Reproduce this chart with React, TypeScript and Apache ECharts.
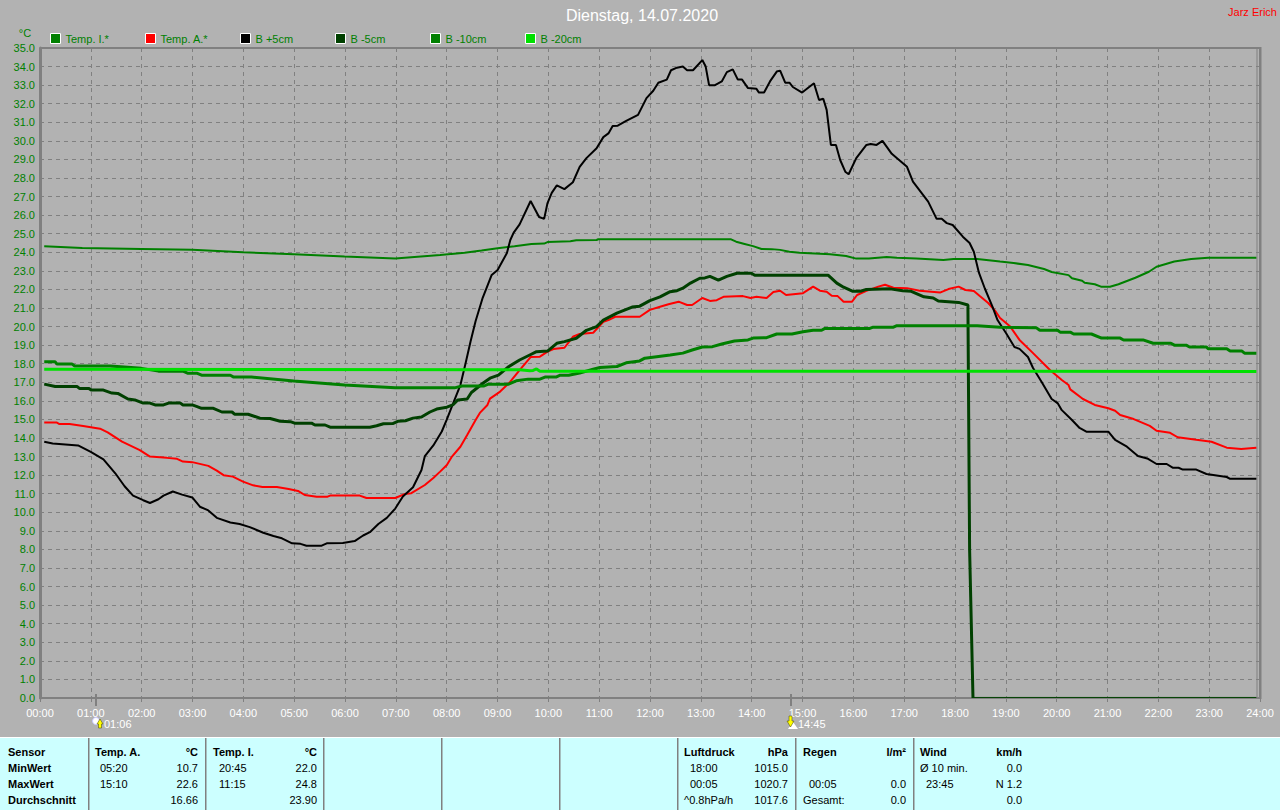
import React, { useEffect, useRef } from "react";
import * as echarts from "echarts";

type P = [number, number];

const FONT = "'Liberation Sans', Arial, sans-serif";
const titleText = "Dienstag, 14.07.2020";
const authorText = "Jarz Erich";
const seriesNames = ["Temp. I.*", "Temp. A.*", "B +5cm", "B -5cm", "B -10cm", "B -20cm"];
const seriesColors = ["#008000", "#ff0000", "#000000", "#004000", "#008000", "#00e000"];
const seriesWidths = [2, 2, 2, 3, 3, 3];
const timeScale = 0.9984;

const tempI: P[] = [[5,24.32],[50,24.23],[120,24.18],[180,24.13],[240,24.0],[300,23.9],[360,23.77],[420,23.66],[473,23.85],[502,23.98],[522,24.1],[541,24.22],[561,24.33],[581,24.45],[596,24.47],[600,24.55],[627,24.6],[634,24.65],[658,24.66],[660,24.7],[780,24.7],[817,24.7],[823,24.57],[833,24.45],[843,24.33],[853,24.18],[865,24.17],[875,24.13],[886,24.03],[898,23.98],[934,23.9],[953,23.8],[965,23.66],[980,23.66],[1001,23.75],[1013,23.7],[1036,23.66],[1068,23.59],[1080,23.64],[1108,23.64],[1135,23.5],[1151,23.42],[1168,23.32],[1187,23.1],[1196,22.94],[1216,22.77],[1220,22.6],[1232,22.47],[1235,22.36],[1247,22.28],[1255,22.14],[1265,22.14],[1275,22.28],[1295,22.63],[1311,22.95],[1320,23.22],[1341,23.5],[1361,23.64],[1381,23.7],[1438,23.7]];

const tempA: P[] = [[5,14.83],[20,14.83],[23,14.75],[35,14.75],[51,14.65],[71,14.5],[80,14.3],[97,13.8],[118,13.35],[130,13.0],[150,12.93],[162,12.88],[169,12.73],[180,12.7],[199,12.5],[209,12.24],[217,12.0],[228,11.92],[240,11.65],[252,11.45],[263,11.36],[280,11.36],[294,11.25],[305,11.15],[313,10.93],[327,10.84],[340,10.84],[343,10.9],[378,10.9],[386,10.77],[420,10.77],[431,10.98],[439,11.03],[455,11.47],[465,11.85],[473,12.19],[481,12.55],[487,13.0],[497,13.53],[505,14.16],[515,14.97],[520,15.35],[529,15.78],[532,16.12],[544,16.5],[556,17.03],[567,17.66],[580,18.36],[591,18.38],[600,18.65],[607,18.79],[620,18.86],[630,19.45],[638,19.6],[654,19.67],[666,20.26],[672,20.35],[680,20.53],[709,20.53],[721,20.9],[733,21.07],[743,21.2],[755,21.34],[765,21.16],[771,21.16],[783,21.54],[792,21.38],[800,21.42],[808,21.6],[831,21.64],[840,21.54],[847,21.6],[859,21.54],[867,21.86],[875,21.93],[882,21.7],[902,21.8],[914,22.15],[922,21.93],[930,21.88],[936,21.66],[943,21.64],[950,21.34],[960,21.34],[966,21.7],[977,21.92],[991,22.15],[999,22.25],[1009,22.09],[1025,22.07],[1040,21.93],[1064,21.83],[1074,22.02],[1086,22.15],[1094,21.97],[1104,21.92],[1111,21.65],[1121,21.27],[1130,20.8],[1135,20.46],[1147,20.0],[1158,19.28],[1174,18.57],[1194,17.66],[1208,17.12],[1216,16.85],[1218,16.62],[1233,16.1],[1247,15.78],[1263,15.6],[1271,15.47],[1277,15.24],[1293,15.02],[1312,14.65],[1320,14.39],[1336,14.28],[1345,14.04],[1367,13.9],[1385,13.8],[1403,13.48],[1420,13.41],[1438,13.48]];

const bPlus5: P[] = [[5,13.8],[15,13.7],[30,13.65],[45,13.6],[60,13.25],[75,12.85],[89,12.1],[100,11.4],[110,10.9],[122,10.65],[130,10.5],[140,10.7],[146,10.9],[157,11.12],[168,10.95],[180,10.8],[189,10.3],[199,10.1],[209,9.7],[225,9.45],[236,9.37],[248,9.2],[264,8.9],[276,8.72],[286,8.6],[298,8.33],[308,8.3],[315,8.2],[333,8.2],[339,8.33],[358,8.35],[372,8.45],[382,8.75],[390,8.93],[400,9.37],[410,9.7],[420,10.2],[429,10.85],[441,11.35],[451,12.28],[455,13.03],[465,13.6],[475,14.35],[481,15.0],[487,15.7],[497,16.85],[503,18.0],[509,19.2],[515,20.3],[523,21.5],[528,22.08],[534,22.78],[541,23.05],[552,23.96],[556,24.66],[560,25.06],[567,25.5],[580,26.76],[590,25.9],[596,25.8],[600,26.65],[605,27.2],[611,27.6],[620,27.4],[630,27.77],[638,28.6],[646,29.07],[658,29.6],[666,30.2],[672,30.4],[677,30.8],[683,30.82],[693,31.07],[707,31.4],[717,32.3],[725,32.7],[731,33.13],[741,33.3],[746,33.8],[753,33.94],[760,34.0],[765,33.8],[772,33.8],[783,34.35],[787,34.0],[791,33.0],[798,33.0],[806,33.2],[812,33.7],[819,33.85],[825,33.3],[830,33.3],[837,32.84],[847,32.8],[850,32.6],[856,32.6],[863,33.2],[871,33.73],[875,33.78],[881,33.13],[886,33.13],[890,32.9],[901,32.6],[915,33.1],[921,32.2],[926,32.27],[930,31.67],[935,29.78],[941,29.78],[946,28.97],[952,28.34],[956,28.2],[965,29.07],[977,29.78],[982,29.83],[989,29.78],[996,30.0],[1007,29.3],[1017,28.92],[1025,28.6],[1032,27.8],[1050,26.73],[1060,25.8],[1066,25.8],[1072,25.57],[1079,25.47],[1091,24.84],[1099,24.5],[1104,24.03],[1110,22.9],[1117,22.05],[1126,21.07],[1132,20.35],[1142,19.65],[1152,18.9],[1158,18.8],[1168,18.36],[1174,17.77],[1184,17.03],[1196,16.1],[1203,15.88],[1208,15.5],[1220,14.97],[1229,14.54],[1237,14.34],[1263,14.34],[1271,13.9],[1285,13.53],[1298,13.03],[1309,12.9],[1320,12.6],[1332,12.6],[1339,12.4],[1346,12.4],[1351,12.3],[1367,12.3],[1379,12.06],[1403,11.9],[1407,11.8],[1438,11.8]];

const bMinus5: P[] = [[5,16.9],[18,16.77],[44,16.77],[47,16.66],[58,16.66],[61,16.58],[75,16.58],[85,16.42],[92,16.4],[104,16.1],[112,16.05],[122,15.88],[130,15.88],[136,15.78],[146,15.78],[152,15.88],[166,15.88],[169,15.78],[180,15.78],[185,15.7],[191,15.6],[205,15.6],[215,15.4],[227,15.4],[230,15.28],[246,15.28],[260,15.07],[272,15.05],[284,14.9],[296,14.88],[301,14.8],[321,14.8],[325,14.7],[337,14.7],[343,14.58],[390,14.58],[398,14.66],[406,14.77],[417,14.78],[423,14.9],[432,14.93],[441,15.07],[451,15.13],[461,15.4],[469,15.56],[481,15.66],[488,15.78],[494,16.05],[505,16.1],[510,16.45],[524,16.96],[532,17.22],[542,17.39],[554,17.84],[567,18.2],[579,18.47],[587,18.65],[600,18.68],[611,19.1],[620,19.19],[634,19.37],[646,19.8],[658,20.0],[666,20.35],[682,20.72],[700,21.05],[709,21.1],[721,21.4],[733,21.6],[745,21.88],[753,21.93],[760,22.07],[769,22.34],[780,22.6],[786,22.62],[792,22.7],[802,22.5],[812,22.7],[824,22.87],[841,22.87],[845,22.76],[910,22.76],[932,22.76],[942,22.34],[950,22.12],[961,21.9],[970,21.9],[977,22.0],[1005,22.03],[1020,21.93],[1030,21.9],[1045,21.6],[1056,21.54],[1062,21.38],[1086,21.3],[1097,21.16],[1099,8.0],[1103,0]];
const bMinus5Zero: P[] = [[1103,0.03],[1438,0.03]];

const bMinus10: P[] = [[5,18.1],[18,18.1],[20,17.98],[38,17.98],[41,17.88],[83,17.88],[120,17.75],[140,17.6],[169,17.6],[175,17.48],[186,17.48],[191,17.38],[225,17.38],[229,17.28],[250,17.28],[300,17.07],[360,16.85],[420,16.7],[473,16.7],[490,16.7],[499,16.8],[525,16.8],[530,16.9],[554,16.9],[563,17.08],[577,17.17],[591,17.17],[597,17.28],[610,17.28],[615,17.38],[625,17.38],[638,17.5],[654,17.7],[662,17.8],[682,17.85],[693,18.05],[709,18.15],[715,18.3],[729,18.38],[745,18.47],[760,18.57],[771,18.74],[783,18.9],[795,18.92],[806,19.06],[821,19.22],[837,19.28],[843,19.38],[859,19.4],[871,19.6],[889,19.6],[902,19.72],[914,19.8],[924,19.8],[928,19.9],[981,19.9],[985,19.97],[1009,19.97],[1013,20.05],[1108,20.05],[1135,19.97],[1178,19.93],[1182,19.8],[1203,19.8],[1206,19.7],[1218,19.7],[1222,19.6],[1243,19.6],[1255,19.38],[1277,19.38],[1281,19.28],[1304,19.28],[1316,19.1],[1337,19.1],[1341,19.0],[1355,19.0],[1359,18.9],[1379,18.9],[1381,18.8],[1403,18.8],[1407,18.68],[1421,18.68],[1424,18.57],[1438,18.57]];

const bMinus20: P[] = [[5,17.7],[567,17.68],[579,17.62],[583,17.64],[587,17.72],[591,17.6],[800,17.6],[1438,17.58]];

const allSeries = [tempI, tempA, bPlus5, bMinus5, bMinus10, bMinus20];

const legendLefts = [50, 145, 240, 335, 430, 525];

const tableRowY = [752, 768, 784, 800];
const tableDividers = [88, 205, 323, 441, 559, 677, 795, 913];
const headerCells: [string, number, "left" | "right"][] = [
  ["Sensor", 8, "left"], ["Temp. A.", 95, "left"], ["°C", 198, "right"], ["Temp. I.", 213, "left"], ["°C", 317, "right"],
  ["Luftdruck", 684, "left"], ["hPa", 788, "right"], ["Regen", 803, "left"], ["l/m²", 906, "right"], ["Wind", 920, "left"], ["km/h", 1022, "right"],
];
const rowLabels: [string, number][] = [["MinWert", 768], ["MaxWert", 784], ["Durchschnitt", 800]];
const bodyCells: [string, number, number, "left" | "right"][] = [
  ["05:20", 100, 768, "left"], ["10.7", 198, 768, "right"], ["20:45", 219, 768, "left"], ["22.0", 317, 768, "right"],
  ["18:00", 690, 768, "left"], ["1015.0", 788, 768, "right"], ["Ø 10 min.", 920, 768, "left"], ["0.0", 1022, 768, "right"],
  ["15:10", 100, 784, "left"], ["22.6", 198, 784, "right"], ["11:15", 219, 784, "left"], ["24.8", 317, 784, "right"],
  ["00:05", 690, 784, "left"], ["1020.7", 788, 784, "right"], ["00:05", 809, 784, "left"], ["0.0", 906, 784, "right"], ["23:45", 926, 784, "left"], ["N 1.2", 1022, 784, "right"],
  ["16.66", 198, 800, "right"], ["23.90", 317, 800, "right"], ["^0.8hPa/h", 684, 800, "left"], ["1017.6", 788, 800, "right"], ["Gesamt:", 803, 800, "left"], ["0.0", 906, 800, "right"], ["0.0", 1022, 800, "right"],
];

const txt = (text: string, x: number, y: number, fill: string, fontSize: number, align: string = "left", fontWeight: string = "normal") => ({
  type: "text", x, y, silent: true, z: 20,
  style: { text, fill, fontSize, fontFamily: FONT, fontWeight, align, verticalAlign: "middle" },
});

const lineSeries = (name: string, data: P[], color: string, width: number, z: number) => ({
  name, type: "line", data: data.map(([t, v]) => [t * timeScale, v]), showSymbol: false, smooth: false, clip: true,
  itemStyle: { color }, lineStyle: { color, width }, z,
});

export default function App() {
  const ref = useRef<HTMLDivElement>(null);
  useEffect(() => {
    document.body.style.margin = "0";
    const chart = echarts.init(ref.current!, undefined, { renderer: "svg" });
    const graphic: any[] = [
      txt(titleText, 642, 15, "#ffffff", 16, "center"),
      txt(authorText, 1277, 12, "#ff0000", 11, "right"),
      txt("°C", 25, 33, "#008000", 11, "center"),
      { type: "rect", shape: { x: 40, y: 47, width: 1220, height: 2 }, style: { fill: "#808080" }, z: 2, silent: true },
      { type: "rect", shape: { x: 1256.5, y: 48, width: 1, height: 650 }, style: { fill: "#808080" }, z: 2, silent: true },
      { type: "rect", shape: { x: 1259, y: 47, width: 2.5, height: 652 }, style: { fill: "#808080" }, z: 2, silent: true },
      { type: "rect", shape: { x: 95, y: 694, width: 2, height: 12 }, style: { fill: "#808080" }, z: 2, silent: true },
      { type: "rect", shape: { x: 790, y: 694, width: 2, height: 12 }, style: { fill: "#808080" }, z: 2, silent: true },
      { type: "circle", shape: { cx: 96, cy: 721, r: 3.5 }, style: { fill: "#ffffff", stroke: "#c8c8ff", lineWidth: 1 }, z: 3, silent: true },
      { type: "polygon", shape: { points: [[100, 719], [103, 724], [101.5, 724], [101.5, 728], [98.5, 728], [98.5, 724], [97, 724]] }, style: { fill: "#ffff00", stroke: "#404000", lineWidth: 0.5 }, z: 4, silent: true },
      txt("01:06", 104, 724, "#ffffff", 11),
      { type: "polygon", shape: { points: [[793, 722], [798, 729], [788, 729]] }, style: { fill: "#ffffff" }, z: 3, silent: true },
      { type: "polygon", shape: { points: [[789, 716], [792, 716], [792, 721], [794, 721], [790.5, 727], [787, 721], [789, 721]] }, style: { fill: "#ffff00", stroke: "#404000", lineWidth: 0.5 }, z: 4, silent: true },
      txt("14:45", 798, 724, "#ffffff", 11),
      { type: "rect", shape: { x: 0, y: 737, width: 1280, height: 73 }, style: { fill: "#ccffff" }, z: 10, silent: true },
      { type: "rect", shape: { x: 0, y: 737, width: 1280, height: 1 }, style: { fill: "#ffffff" }, z: 11, silent: true },
      ...tableDividers.map((x) => ({ type: "rect", shape: { x, y: 738, width: 1.5, height: 72 }, style: { fill: "#808080" }, z: 11, silent: true })),
      ...headerCells.map(([t, x, a]) => txt(t, x, tableRowY[0], "#000000", 11, a, "bold")),
      ...rowLabels.map(([t, y]) => txt(t, 8, y, "#000000", 11, "left", "bold")),
      ...bodyCells.map(([t, x, y, a]) => txt(t, x, y, "#000000", 11, a)),
    ];
    chart.setOption({
      animation: false,
      backgroundColor: "#b2b2b2",
      textStyle: { fontFamily: FONT },
      grid: { left: 40, top: 48, width: 1220, height: 650, show: false },
      legend: seriesNames.map((name, i) => ({
        show: true, data: [name], left: legendLefts[i], top: 33, padding: 0, icon: "rect",
        itemWidth: 10, itemHeight: 10, selectedMode: false,
        itemStyle: { borderColor: "#ffffff", borderWidth: 1 },
        textStyle: { color: "#008000", fontSize: 11, fontFamily: FONT },
      })),
      xAxis: {
        type: "value", min: 0, max: 1440, interval: 60,
        axisLine: { show: true, onZero: false, lineStyle: { color: "#808080", width: 2 } },
        axisTick: { show: true, length: 4, lineStyle: { color: "#808080", width: 1 } },
        axisLabel: {
          color: "#ffffff", fontSize: 11, margin: 9, fontFamily: FONT, showMinLabel: true, showMaxLabel: true, hideOverlap: false,
          formatter: (v: number) => `${String(Math.floor(v / 60)).padStart(2, "0")}:00`,
        },
        splitLine: { show: true, lineStyle: { color: "#808080", type: [4, 4], width: 1 } },
      },
      yAxis: {
        type: "value", min: 0, max: 35, interval: 1,
        axisLine: { show: true, onZero: false, lineStyle: { color: "#808080", width: 3 } },
        axisTick: { show: false },
        axisLabel: { color: "#008000", fontSize: 11, margin: 5, fontFamily: FONT, formatter: (v: number) => v.toFixed(1), showMinLabel: true, showMaxLabel: true, hideOverlap: false },
        splitLine: { show: true, lineStyle: { color: "#808080", type: [4, 4], width: 1 } },
      },
      series: [
        ...allSeries.map((data, i) => lineSeries(seriesNames[i], data, seriesColors[i], seriesWidths[i], 5 + i)),
        lineSeries(seriesNames[3], bMinus5Zero, seriesColors[3], 1, 8),
      ],
      graphic,
    });
    return () => chart.dispose();
  }, []);
  return <div ref={ref} style={{ position: "fixed", left: 0, top: 0, width: 1280, height: 810 }} />;
}
